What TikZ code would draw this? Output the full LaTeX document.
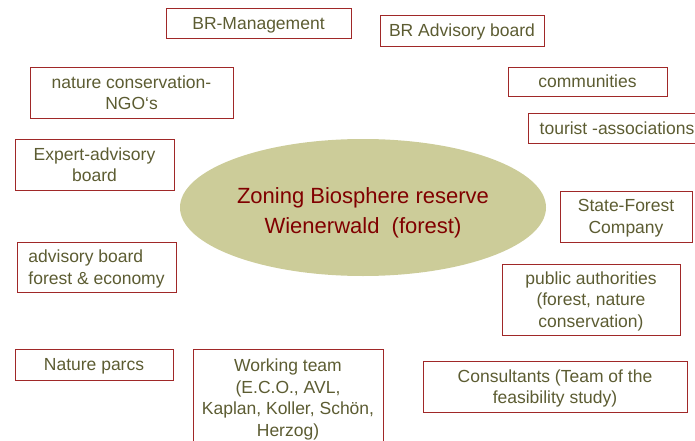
\documentclass[tikz,border=0pt]{standalone}
\usepackage{fontspec}
\usetikzlibrary{shapes.geometric}
\setmainfont{Liberation Sans}
\definecolor{boxred}{RGB}{160,40,40}
\definecolor{olivetext}{RGB}{92,92,50}
\definecolor{ellfill}{RGB}{204,204,153}
\definecolor{titlered}{RGB}{128,0,0}
\begin{document}
\begin{tikzpicture}[x=1pt, y=-1pt,
    box/.style={rectangle, draw=boxred, line width=0.9pt, text=olivetext, align=center, inner sep=0pt, text depth=0pt, font=\fontsize{17.5}{21.5}\selectfont},
    hub/.style={ellipse, fill=ellfill, text=titlered, align=center, inner sep=0pt, text depth=0pt, text height=52pt, font=\fontsize{22}{30}\selectfont}]
    \useasboundingbox (0,0) rectangle (695,441);

    \node[hub, minimum width=366, minimum height=137] (zoning) at (363,207.5) {Zoning Biosphere reserve\\Wienerwald\ \ (forest)};

    \node[box, minimum width=185, minimum height=30] (mgmt) at (258.5,23) {BR-Management};
    \node[box, minimum width=164, minimum height=31] (advisory) at (462,30.5) {BR Advisory board};
    \node[box, minimum width=203, minimum height=51] (ngo) at (131.5,92.5) {nature conservation-\\NGO‘s};
    \node[box, minimum width=159, minimum height=29] (communities) at (587.5,81.5) {communities};
    \node[box, minimum width=178, minimum height=30] (tourist) at (617,128) {tourist -associations};
    \node[box, minimum width=159, minimum height=51] (expert) at (94.5,164.5) {Expert-advisory\\board};
    \node[box, minimum width=132, minimum height=51] (stateforest) at (626,216.5) {State-Forest\\Company};
    \node[box, minimum width=159, minimum height=50, align=left] (forecon) at (96.5,267) {advisory board\\forest \& economy};
    \node[box, minimum width=178, minimum height=71] (public) at (591,299.5) {public authorities\\(forest, nature\\conservation)};
    \node[box, minimum width=158, minimum height=31] (parcs) at (94,364.5) {Nature parcs};
    \node[box, minimum width=190, minimum height=96, anchor=north] (team) at (288,349) {Working team\\(E.C.O., AVL,\\Kaplan, Koller, Schön,\\Herzog)};
    \node[box, minimum width=264, minimum height=51] (consult) at (555,386.5) {Consultants (Team of the\\feasibility study)};

\end{tikzpicture}
\end{document}
